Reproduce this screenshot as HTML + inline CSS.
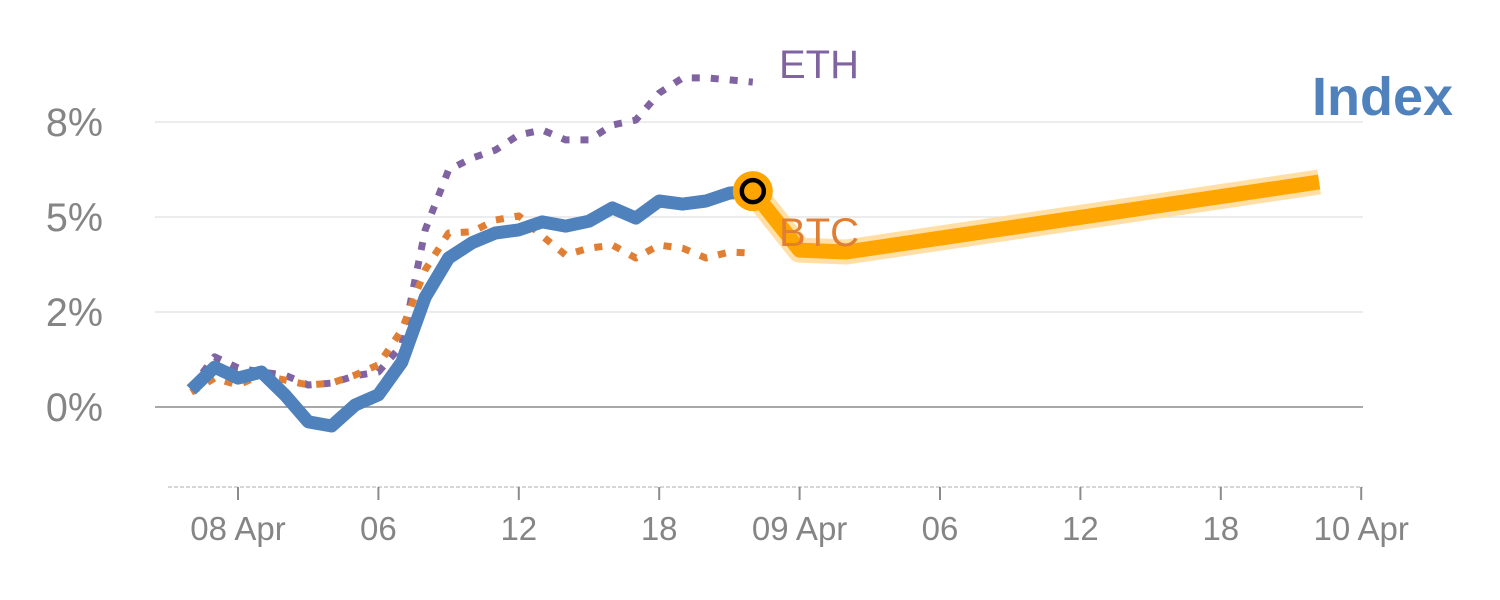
<!DOCTYPE html>
<html><head><meta charset="utf-8"><style>
html,body{margin:0;padding:0;background:#fff;}
svg{display:block;font-family:"Liberation Sans",sans-serif;}
</style></head><body>
<svg id="chart" width="1500" height="600" viewBox="0 0 1500 600" xmlns="http://www.w3.org/2000/svg">
<g id="grid"></g><g id="axis"></g><g id="series"></g><g id="labels"></g>
</svg>
<script>
const hours = [-2,-1,0,1,2,3,4,5,6,7,8,9,10,11,12,13,14,15,16,17,18,19,20,21,22];
const indexValues = [0.45,1.05,0.76,0.92,0.32,-0.39,-0.5,0.05,0.32,1.18,2.89,3.92,4.32,4.58,4.66,4.87,4.76,4.89,5.24,4.97,5.42,5.34,5.42,5.63,5.68];
const ethValues = [0.50,1.32,1.03,0.92,0.84,0.58,0.63,0.82,0.92,1.63,4.66,6.24,6.55,6.76,7.16,7.29,7.03,7.03,7.42,7.55,8.26,8.66,8.66,8.61,8.55];
const btcValues = [0.39,0.76,0.58,0.84,0.71,0.58,0.63,0.84,1.11,2.03,3.61,4.58,4.61,4.92,5.03,4.5,4.0,4.18,4.26,3.92,4.26,4.18,3.92,4.08,4.05];
const forecastHours = [22,24,26,46.2];
const forecastValues = [5.68,4.13,4.08,5.92];
const yTicks = [0,2.5,5,7.5];
const yTickLabels = ['0%','2%','5%','8%'];
const xTicks = [0,6,12,18,24,30,36,42,48];
const xTickLabels = ['08 Apr','06','12','18','09 Apr','06','12','18','10 Apr'];

const NS='http://www.w3.org/2000/svg';
const x = h => 238 + h*23.4;
const y = v => 407 - v*38;
function mk(tag, attrs, parent){const e=document.createElementNS(NS,tag);for(const k in attrs)e.setAttribute(k,attrs[k]);document.getElementById(parent).appendChild(e);return e;}

yTicks.forEach((t,i)=>{
  const g=mk('line',{x1:155,x2:1363,y1:y(t),y2:y(t),stroke:t===0?'#8c8c8c':'#e6e6e6','stroke-width':1.5},'grid');
  
  
  const l=mk('text',{x:103,y:y(t)+14,'text-anchor':'end','font-size':39.5,fill:'#858585'},'axis');
  l.textContent=yTickLabels[i];
  
  
});
const ax=mk('line',{x1:168,x2:1363,y1:487,y2:487,stroke:'#d6d6d6','stroke-width':2,'stroke-dasharray':'4,2'},'axis');


xTicks.forEach((t,i)=>{
  const tk=mk('line',{x1:x(t),x2:x(t),y1:487,y2:500,stroke:'#8c8c8c','stroke-width':2},'axis');
  
  
  const l=mk('text',{x:x(t),y:540,'text-anchor':'middle','font-size':33,fill:'#858585'},'axis');
  l.textContent=xTickLabels[i];
  
  
});
function pts(hs,vs){return hs.map((h,i)=>x(h).toFixed(1)+','+y(vs[i]).toFixed(1)).join(' ');}
const eth=mk('polyline',{points:pts(hours,ethValues),fill:'none',stroke:'#8064a2','stroke-width':7,'stroke-dasharray':'8,11','stroke-linejoin':'round'},'series');


const btc=mk('polyline',{points:pts(hours,btcValues),fill:'none',stroke:'#e07f34','stroke-width':7,'stroke-dasharray':'8,11','stroke-linejoin':'round'},'series');


const idx=mk('polyline',{points:pts(hours,indexValues),fill:'none',stroke:'#4f81bd','stroke-width':13,'stroke-linejoin':'round'},'series');


const fh=mk('polyline',{points:pts(forecastHours,forecastValues),fill:'none',stroke:'#ffdfa6','stroke-width':25,'stroke-linejoin':'round'},'series');


const fl=mk('polyline',{points:pts(forecastHours,forecastValues),fill:'none',stroke:'#ffa500','stroke-width':15,'stroke-linejoin':'round'},'series');


const last=hours.length-1;
const mo=mk('circle',{cx:x(hours[last]),cy:y(indexValues[last]),r:20,fill:'#ffa500'},'series');


const mi=mk('circle',{cx:x(hours[last]),cy:y(indexValues[last]),r:11,fill:'#ffa500',stroke:'#000','stroke-width':4.5},'series');



const le=mk('text',{x:779,y:78,'font-size':40,fill:'#8064a2'},'labels');
le.textContent='ETH';


const lb=mk('text',{x:779,y:246,'font-size':40,fill:'#e07f34'},'labels');
lb.textContent='BTC';


const li=mk('text',{x:1312,y:115,'font-size':54,'font-weight':'bold',fill:'#4f81bd'},'labels');
li.textContent='Index';


</script>
</body></html>
